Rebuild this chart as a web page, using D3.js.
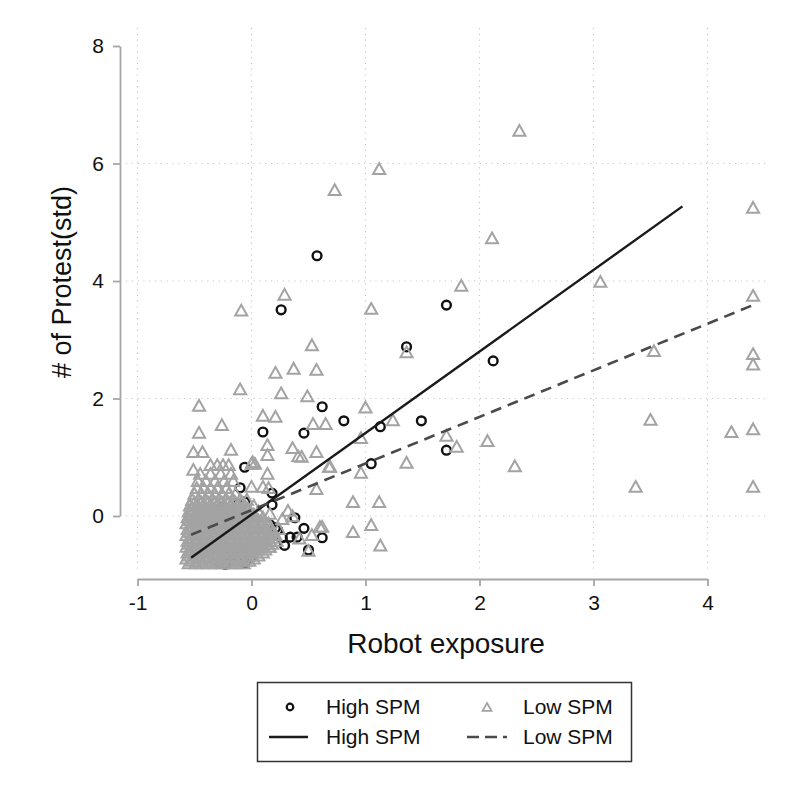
<!DOCTYPE html>
<html>
<head>
<meta charset="utf-8">
<script src="https://cdn.jsdelivr.net/npm/d3@7/dist/d3.min.js"></script>
<style>
  html, body { margin: 0; padding: 0; background: #fff; }
  svg { display: block; font-family: "Liberation Sans", Arial, Helvetica, sans-serif; }
</style>
</head>
<body>
<svg id="chart" width="800" height="800"></svg>
<script>
// ---------------- data ----------------
const xTicks = [-1, 0, 1, 2, 3, 4];
const yTicks = [0, 2, 4, 6, 8];
const yGrid = [0, 2, 4, 6];
const xTitle = "Robot exposure";
const yTitle = "# of Protest(std)";
const legendLabels = ["High SPM", "Low SPM", "High SPM", "Low SPM"];

// High SPM observations (x, y)
const highSPM = [
  [0.575, 4.43], [0.26, 3.51], [1.71, 3.59], [1.36, 2.88], [2.12, 2.64],
  [0.62, 1.86], [0.81, 1.62], [1.49, 1.62], [1.13, 1.52], [0.46, 1.41],
  [0.10, 1.43], [1.71, 1.12], [1.05, 0.89], [-0.06, 0.83], [-0.10, 0.48],
  [0.18, 0.39], [0.18, 0.19], [-0.25, 0.16], [-0.12, 0.19], [-0.06, 0.24],
  [-0.08, -0.02], [0.38, -0.03], [0.16, -0.15], [0.21, -0.20], [0.23, -0.24],
  [0.27, -0.37], [0.29, -0.50], [0.34, -0.36], [0.46, -0.21], [0.62, -0.37],
  [0.40, -0.36], [0.50, -0.58], [-0.21, -0.54], [-0.17, -0.63], [-0.13, -0.68],
  [-0.01, -0.71], [-0.29, -0.78], [-0.23, -0.82], [-0.06, -0.80],
  [-0.10, -0.75]
];

// Low SPM observations: scattered points
const lowSPMScatter = [
  [2.35, 6.54], [1.12, 5.89], [0.73, 5.53], [3.06, 3.97], [1.84, 3.90],
  [2.11, 4.71], [0.29, 3.75], [1.05, 3.51], [-0.09, 3.48], [4.40, 5.23],
  [4.40, 3.73], [4.40, 2.74], [4.40, 2.56], [4.40, 1.46], [4.21, 1.41],
  [4.40, 0.48], [3.50, 1.62], [3.53, 2.79], [3.37, 0.48], [2.07, 1.26],
  [2.31, 0.83], [-0.10, 2.14], [0.53, 2.89], [1.36, 2.77], [0.21, 2.42],
  [0.37, 2.49], [0.57, 2.47], [0.26, 2.07], [0.49, 2.02], [1.00, 1.83],
  [0.54, 1.55], [0.65, 1.55], [1.24, 1.61], [0.96, 1.31], [1.71, 1.35],
  [1.80, 1.16], [0.57, 1.07], [0.44, 0.99], [0.69, 0.82], [0.96, 0.72],
  [1.36, 0.89], [0.57, 0.44], [0.89, 0.22], [1.12, 0.22], [0.62, -0.20],
  [0.89, -0.29], [1.05, -0.17], [1.13, -0.52], [0.50, -0.61],
  [-0.46, 1.86], [-0.26, 1.53], [0.10, 1.69], [0.21, 1.67], [-0.46, 1.40],
  [0.14, 1.19], [0.14, 1.02], [0.36, 1.14], [0.41, 1.00], [-0.51, 1.07],
  [-0.43, 1.07], [-0.18, 1.11], [-0.36, 0.85], [-0.30, 0.85], [-0.25, 0.85],
  [-0.20, 0.85], [0.00, 0.87], [0.03, 0.87], [0.68, 0.82], [0.14, 0.70],
  [-0.51, 0.77], [0.01, 0.90], [0.00, 0.48], [0.10, 0.48], [0.15, 0.46],
  [0.32, 0.07], [0.16, 0.02], [0.27, -0.07], [0.36, -0.02], [0.60, -0.20],
  [0.53, -0.34], [0.42, -0.40], [0.09, -0.49], [0.01, -0.49], [0.16, -0.54]
];

// Low SPM observations: dense cluster, one row per y value
const lowSPMRows = [
  [-0.82, [-0.55, -0.49, -0.43, -0.37, -0.31, -0.25, -0.19, -0.13, -0.07]],
  [-0.78, [-0.52, -0.46, -0.40, -0.34, -0.28, -0.22, -0.16, -0.10, -0.02]],
  [-0.74, [-0.57, -0.52, -0.46, -0.40, -0.34, -0.28, -0.22, -0.16, -0.10, -0.04, 0.02]],
  [-0.69, [-0.54, -0.48, -0.42, -0.36, -0.30, -0.24, -0.18, -0.12, -0.06, 0.00, 0.06]],
  [-0.64, [-0.56, -0.50, -0.44, -0.38, -0.32, -0.26, -0.20, -0.14, -0.08, -0.02, 0.04, 0.10]],
  [-0.59, [-0.54, -0.48, -0.42, -0.36, -0.30, -0.24, -0.18, -0.12, -0.06, 0.00, 0.06, 0.12]],
  [-0.54, [-0.57, -0.51, -0.45, -0.39, -0.33, -0.27, -0.21, -0.15, -0.09, -0.03, 0.03, 0.09, 0.15]],
  [-0.49, [-0.54, -0.48, -0.42, -0.36, -0.30, -0.24, -0.18, -0.12, -0.06, 0.00, 0.06, 0.12, 0.18]],
  [-0.44, [-0.56, -0.50, -0.44, -0.38, -0.32, -0.26, -0.20, -0.14, -0.08, -0.02, 0.04, 0.10, 0.16, 0.22]],
  [-0.39, [-0.54, -0.48, -0.42, -0.36, -0.30, -0.24, -0.18, -0.12, -0.06, 0.00, 0.06, 0.12, 0.18]],
  [-0.34, [-0.57, -0.51, -0.45, -0.39, -0.33, -0.27, -0.21, -0.15, -0.09, -0.03, 0.03, 0.09, 0.15, 0.21]],
  [-0.29, [-0.54, -0.48, -0.42, -0.36, -0.30, -0.24, -0.18, -0.12, -0.06, 0.00, 0.06, 0.12, 0.19]],
  [-0.24, [-0.56, -0.50, -0.44, -0.38, -0.32, -0.26, -0.20, -0.14, -0.08, -0.02, 0.04, 0.10, 0.16, 0.24]],
  [-0.19, [-0.54, -0.48, -0.42, -0.36, -0.30, -0.24, -0.18, -0.12, -0.06, 0.00, 0.06, 0.12]],
  [-0.14, [-0.57, -0.51, -0.45, -0.39, -0.33, -0.27, -0.21, -0.15, -0.09, -0.03, 0.03, 0.09, 0.15]],
  [-0.09, [-0.54, -0.48, -0.42, -0.36, -0.30, -0.24, -0.18, -0.12, -0.06, 0.00, 0.06]],
  [-0.04, [-0.56, -0.50, -0.44, -0.38, -0.32, -0.26, -0.20, -0.14, -0.08, -0.02, 0.04, 0.10]],
  [0.01, [-0.53, -0.47, -0.41, -0.35, -0.29, -0.23, -0.17, -0.11, -0.05, 0.02]],
  [0.06, [-0.55, -0.49, -0.43, -0.37, -0.31, -0.25, -0.19, -0.13, -0.07, -0.01, 0.06]],
  [0.11, [-0.52, -0.46, -0.40, -0.34, -0.28, -0.22, -0.16, -0.10, -0.03]],
  [0.16, [-0.54, -0.48, -0.42, -0.36, -0.30, -0.24, -0.18, -0.12, -0.06, 0.02]],
  [0.21, [-0.50, -0.44, -0.38, -0.32, -0.26, -0.20, -0.14, -0.08]],
  [0.26, [-0.52, -0.46, -0.40, -0.34, -0.28, -0.22, -0.16, -0.10, -0.04]],
  [0.36, [-0.50, -0.44, -0.38, -0.32, -0.26, -0.20, -0.14]],
  [0.46, [-0.48, -0.42, -0.36, -0.30, -0.22]],
  [0.58, [-0.47, -0.40, -0.32, -0.24, -0.16]],
  [0.70, [-0.45, -0.36, -0.27, -0.18]]
];

// Fitted lines (end points)
const highFit = [[-0.53, -0.71], [3.78, 5.27]];
const lowFit = [[-0.53, -0.32], [4.40, 3.59]];

// ---------------- drawing ----------------
const svg = d3.select("#chart");
const plot = { left: 126, right: 768, top: 28, bottom: 572 };

const x = d3.scaleLinear().domain([-1, 4]).range([137.5, 707.5]);
const y = d3.scaleLinear().domain([0, 8]).range([516, 46]);

const gridColor = "#c8c8c8";
const axisColor = "#a6a6a6";
const triColor = "#a3a3a3";

// gridlines
svg.append("g").selectAll("line").data(xTicks).join("line")
  .attr("x1", d => x(d)).attr("x2", d => x(d))
  .attr("y1", plot.top).attr("y2", plot.bottom)
  .attr("stroke", gridColor).attr("stroke-width", 1.2)
  .attr("stroke-dasharray", "1.2,4.6");
svg.append("g").selectAll("line").data(yGrid).join("line")
  .attr("x1", plot.left).attr("x2", plot.right)
  .attr("y1", d => y(d)).attr("y2", d => y(d))
  .attr("stroke", gridColor).attr("stroke-width", 1.2)
  .attr("stroke-dasharray", "1.2,4.6");

// axes
const fmt = d => String(d);
const xAxis = svg.append("g").attr("transform", "translate(0,579)")
  .call(d3.axisBottom(x).tickValues(xTicks).tickSizeInner(7).tickSizeOuter(0).tickPadding(8).tickFormat(fmt));
const yAxis = svg.append("g").attr("transform", "translate(120,0)")
  .call(d3.axisLeft(y).tickValues(yTicks).tickSizeInner(7).tickSizeOuter(0).tickPadding(9).tickFormat(fmt));
[xAxis, yAxis].forEach(a => {
  a.select(".domain").attr("stroke", axisColor).attr("stroke-width", 1.8);
  a.selectAll(".tick line").attr("stroke", axisColor).attr("stroke-width", 1.8);
  a.selectAll(".tick text").attr("fill", "#111").attr("font-size", 21)
    .attr("font-family", "'Liberation Sans', Arial, sans-serif");
});
xAxis.selectAll(".tick text").attr("dy", "0.75em");

// titles
svg.append("text").attr("x", 446).attr("y", 653).attr("text-anchor", "middle")
  .attr("font-size", 28).attr("fill", "#111").text(xTitle);
svg.append("text").attr("transform", "translate(71,282) rotate(-90)").attr("text-anchor", "middle")
  .attr("font-size", 27).attr("fill", "#111").text(yTitle);

// marker shapes
const triPath = (s) => `M0,${-s * 0.62}L${s * 0.55},${s * 0.36}L${-s * 0.55},${s * 0.36}Z`;

// High SPM circles (drawn first, as in the original plot order)
svg.append("g").selectAll("circle").data(highSPM).join("circle")
  .attr("cx", d => x(d[0])).attr("cy", d => y(d[1])).attr("r", 4.4)
  .attr("fill", "none").attr("stroke", "#111").attr("stroke-width", 2.4);

// Low SPM triangles
const lowSPM = lowSPMScatter.concat(...lowSPMRows.map(r => r[1].map(v => [v, r[0]])));
svg.append("g").selectAll("path").data(lowSPM).join("path")
  .attr("transform", d => `translate(${x(d[0])},${y(d[1])})`)
  .attr("d", triPath(11))
  .attr("fill", "none").attr("stroke", triColor).attr("stroke-width", 2.0)
  .attr("stroke-linejoin", "miter");

// fitted lines
const line = d3.line().x(d => x(d[0])).y(d => y(d[1]));
svg.append("path").datum(highFit).attr("d", line)
  .attr("fill", "none").attr("stroke", "#1a1a1a").attr("stroke-width", 2.4);
svg.append("path").datum(lowFit).attr("d", line)
  .attr("fill", "none").attr("stroke", "#4a4a4a").attr("stroke-width", 2.6)
  .attr("stroke-dasharray", "11,7");

// legend
const lg = svg.append("g");
lg.append("rect").attr("x", 257.5).attr("y", 682.5).attr("width", 374).attr("height", 79)
  .attr("fill", "#fff").attr("stroke", "#333").attr("stroke-width", 1.5);
lg.append("circle").attr("cx", 290).attr("cy", 707).attr("r", 3.3)
  .attr("fill", "none").attr("stroke", "#111").attr("stroke-width", 2.2);
lg.append("path").attr("transform", "translate(487,708)").attr("d", triPath(8))
  .attr("fill", "none").attr("stroke", triColor).attr("stroke-width", 1.8);
lg.append("line").attr("x1", 269).attr("x2", 308).attr("y1", 737).attr("y2", 737)
  .attr("stroke", "#1a1a1a").attr("stroke-width", 2.4);
lg.append("line").attr("x1", 467).attr("x2", 507).attr("y1", 737).attr("y2", 737)
  .attr("stroke", "#4a4a4a").attr("stroke-width", 2.6).attr("stroke-dasharray", "12,6");
const legPos = [[326, 707], [523, 707], [326, 737], [523, 737]];
lg.selectAll("text.lt").data(legendLabels).join("text").attr("class", "lt")
  .attr("x", (d, i) => legPos[i][0]).attr("y", (d, i) => legPos[i][1])
  .attr("dy", "0.35em").attr("font-size", 21).attr("fill", "#111").text(d => d);
</script>
</body>
</html>
